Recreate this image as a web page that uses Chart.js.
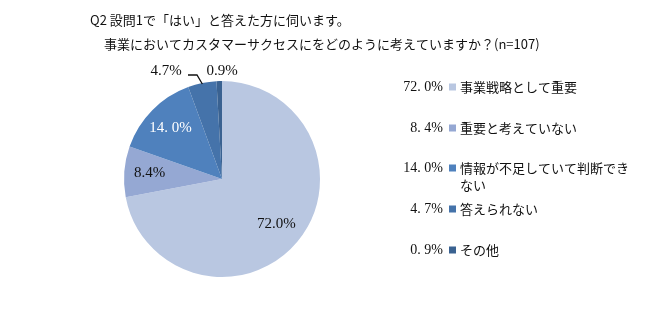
<!DOCTYPE html>
<html>
<head>
<meta charset="utf-8">
<script src="https://cdn.jsdelivr.net/npm/chart.js@4.4.1/dist/chart.umd.min.js"></script>
<style>
  html, body { margin: 0; padding: 0; background: #fff; }
  #wrap { width: 650px; height: 326px; position: relative; }
</style>
</head>
<body>
<div id="wrap"><canvas id="pieChart" width="650" height="326"></canvas></div>
<script>
// データ
const categories = ['事業戦略として重要', '重要と考えていない', '情報が不足していて判断できない', '答えられない', 'その他'];
const percents = [72.0, 8.4, 14.0, 4.7, 0.9];
const sliceColors = ['#b9c7e1', '#95a8d3', '#4f81bd', '#4573aa', '#3a6291'];
const titleLines = ['Q2 設問1で「はい」と答えた方に伺います。', '事業においてカスタマーサクセスにをどのように考えていますか？(n=107)'];

const SANS = '"Noto Sans CJK JP", "Noto Sans", sans-serif';
const SERIF = '"Liberation Serif", "DejaVu Serif", serif';

// 凡例の折り返し
const legendLines = ['事業戦略として重要', '重要と考えていない', '情報が不足していて判断でき\nない', '答えられない', 'その他'];

const drawExtras = {
    id: 'drawExtras',
    afterDraw(chart) {
        const ctx = chart.ctx;
        const meta = chart.getDatasetMeta(0);
        ctx.save();

        // タイトル
        ctx.fillStyle = '#111';
        ctx.font = '13px ' + SANS;
        ctx.textBaseline = 'middle';
        ctx.textAlign = 'left';
        ctx.fillText(titleLines[0], 90, 20);
        ctx.fillText(titleLines[1], 104, 44);

        // 扇形のラベル
        ctx.font = '15px ' + SERIF;
        ctx.textAlign = 'center';
        meta.data.forEach((arc, i) => {
            const p = arc.getProps(['x', 'y', 'startAngle', 'endAngle', 'outerRadius']);
            const mid = (p.startAngle + p.endAngle) / 2;
            const r = p.outerRadius;
            let txt = percents[i].toFixed(1) + '%';
            if (i === 2) txt = percents[i].toFixed(1).replace('.', '. ') + '%';
            if (i < 3) {
                const k = i === 0 ? 0.72 : 0.74;
                ctx.fillStyle = i === 2 ? '#fff' : '#111';
                ctx.fillText(txt, p.x + Math.cos(mid) * r * k, p.y + Math.sin(mid) * r * k);
            } else if (i === 3) {
                ctx.fillStyle = '#111';
                ctx.fillText(txt, p.x - 56, p.y - r - 10);
                // 引き出し線
                const ex = p.x + Math.cos(mid) * r * 0.99;
                const ey = p.y + Math.sin(mid) * r * 0.99;
                ctx.strokeStyle = '#111';
                ctx.lineWidth = 1.3;
                ctx.beginPath();
                ctx.moveTo(p.x - 34, p.y - r - 6);
                ctx.lineTo(p.x - 25, p.y - r - 6);
                ctx.lineTo(ex, ey);
                ctx.stroke();
            } else {
                ctx.fillStyle = '#111';
                ctx.fillText(txt, p.x, p.y - r - 10);
            }
        });

        // 凡例
        const rows = [87, 128, 168, 209, 250];
        percents.forEach((v, i) => {
            const y = rows[i];
            ctx.font = '14px ' + SERIF;
            ctx.textAlign = 'right';
            ctx.fillStyle = '#111';
            ctx.fillText(v.toFixed(1).replace('.', '. ') + '%', 443, y);
            ctx.fillStyle = sliceColors[i];
            ctx.fillRect(449, y - 3.5, 7, 7);
            ctx.font = '13px ' + SANS;
            ctx.textAlign = 'left';
            ctx.fillStyle = '#111';
            legendLines[i].split('\n').forEach((ln, j) => {
                ctx.fillText(ln, 460, y + j * 17);
            });
        });
        ctx.restore();
    }
};

new Chart(document.getElementById('pieChart'), {
    type: 'pie',
    data: {
        labels: categories,
        datasets: [{
            data: percents,
            backgroundColor: sliceColors,
            borderWidth: 0
        }]
    },
    options: {
        responsive: false,
        animation: false,
        layout: { padding: { top: 81, bottom: 49, left: 124, right: 330 } },
        plugins: {
            legend: { display: false },
            title: { display: false },
            tooltip: { enabled: false }
        }
    },
    plugins: [drawExtras]
});
</script>
</body>
</html>
